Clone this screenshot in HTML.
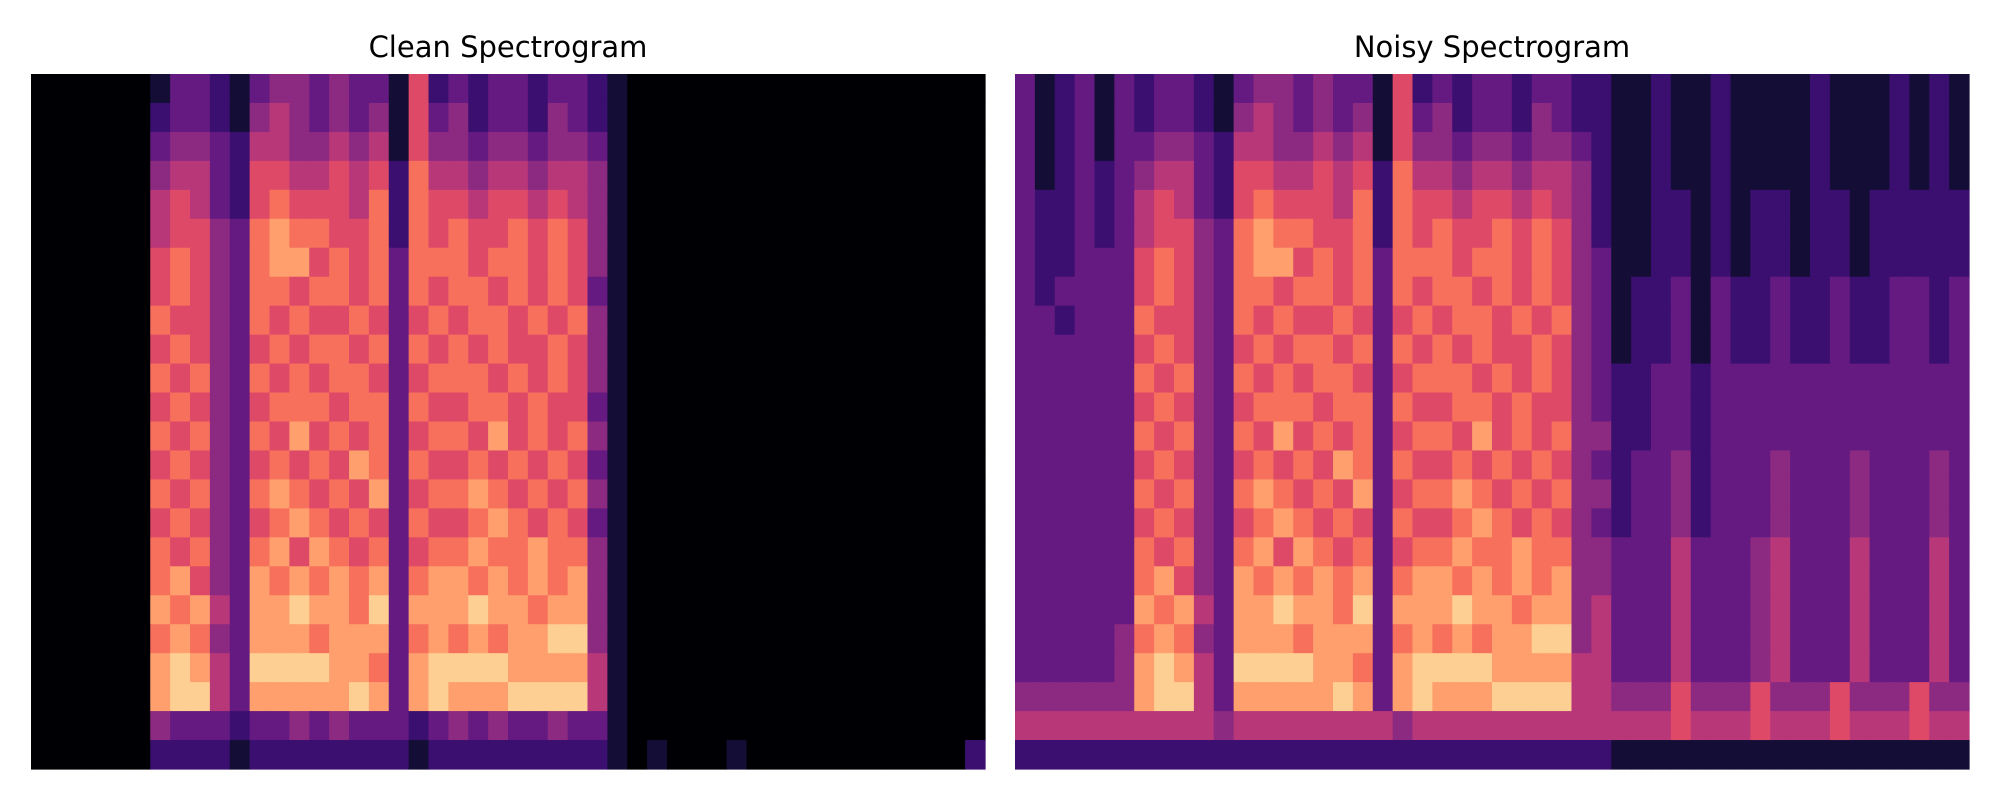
<!DOCTYPE html>
<html>
<head>
<meta charset="utf-8">
<style>
  html, body { margin: 0; padding: 0; background: #ffffff; }
  svg { display: block; }
  text { font-family: "DejaVu Sans", "Liberation Sans", sans-serif; fill: #000; }
</style>
</head>
<body>
<svg id="fig" width="2000" height="800" viewBox="0 0 2000 800" xmlns="http://www.w3.org/2000/svg">
  <rect x="0" y="0" width="2000" height="800" fill="#ffffff"/>
  <text x="508" y="57" font-size="29" text-anchor="middle">Clean Spectrogram</text>
  <text x="1492" y="57" font-size="29" text-anchor="middle">Noisy Spectrogram</text>
  <g id="cleanG"></g>
  <g id="noisyG"></g>
</svg>
<script>
// Intensity levels 0..9 (magma-like colormap), rows top (high freq) to bottom (low freq)
const cleanSpeech = [
"133213443433162323323321",
"233214543434163423324321",
"344325544545164434434431",
"455326655656275545545541",
"565326766657276656656541",
"566437877667276766767641",
"676437886767377767767641",
"676437767767376776767631",
"766437676676367677676741",
"676436767767376767667641",
"767437676776367776767641",
"676436777677376677676631",
"767437686767367768676741",
"676436767687376676767631",
"767437876768367787676741",
"676436787676376678767631",
"767437868767367787787741",
"786438787878378878787841",
"878538898879388898878841",
"787438887888378787889941",
"898539999887389999888851",
"899538888898389888999951",
"433323343433323434334331",
"222212222222212222222221"
];
const cleanLead = "000000";
const cleanTail = [
"000000000000000000","000000000000000000","000000000000000000","000000000000000000",
"000000000000000000","000000000000000000","000000000000000000","000000000000000000",
"000000000000000000","000000000000000000","000000000000000000","000000000000000000",
"000000000000000000","000000000000000000","000000000000000000","000000000000000000",
"000000000000000000","000000000000000000","000000000000000000","000000000000000000",
"000000000000000000","000000000000000000","000000000000000000","010001000000000002"
];
const noisySpeech = [
"233213443433162323323322",
"233214543434163423324322",
"344325544545164434434432",
"455326655656275545545542",
"565326766657276656656542",
"566437877667276766767642",
"676437886767377767767643",
"676437767767376776767643",
"766437676676367677676743",
"676436767767376767667643",
"767437676776367776767643",
"676436777677376677676643",
"767437686767367768676744",
"676436767687376676767643",
"767437876768367787676744",
"676436787676376678767643",
"767437868767367787787744",
"786438787878378878787844",
"878538898879388898878845",
"787438887888378787889945",
"898539999887389999888855",
"899538888898389888999955",
"555545555555545555555555",
"222222222222222222222222"
];
const noisyLead = [
"312313","312313","312313","312323","322323","322323",
"322333","323333","332333","333333","333333","333333",
"333333","333333","333333","333333","333333","333333",
"333333","333334","333334","444444","555555","222222"
];
const noisyTail = [
"112112111121112121","112112111121112121","112112111121112121","112112111121112121",
"112212122122122222","112212122122122222","112212122122122222","122313223223223323",
"122313223223223323","122313223223223323","223323333333333333","223323333333333333",
"223323333333333333","233423334333433343","233423334333433343","233423334333433343",
"333533345333533353","333533345333533353","333533345333533353","333533345333533353",
"333533345333533353","444644464446444644","555655565556555655","111111111111111111"
];
const magma = ["#000004","#140e36","#3b0f70","#641a80","#8c2981","#b73779","#de4968","#f7705c","#fe9f6d","#fecf92"];

const NCOLS = 48, NROWS = 24;
function xScale(panelX, panelW, c) { return panelX + c * panelW / NCOLS; }
function yScale(panelY, panelH, r) { return panelY + r * panelH / NROWS; }
function pad(s, n) { s = s || ""; while (s.length < n) s += s.charAt(s.length - 1) || "0"; return s.slice(0, n); }

function drawPanel(gId, lead, speech, tail, panelX, panelY, panelW, panelH, prefix) {
  const g = document.getElementById(gId);
  const NS = "http://www.w3.org/2000/svg";
  const bg = document.createElementNS(NS, "rect");
  bg.setAttribute("x", panelX); bg.setAttribute("y", panelY);
  bg.setAttribute("width", panelW); bg.setAttribute("height", panelH);
  bg.setAttribute("fill", magma[0]);
  
  
  g.appendChild(bg);
  for (let r = 0; r < NROWS; r++) {
    const row = pad(typeof lead === "string" ? lead : lead[r], 6) + pad(speech[r], 24) + pad(tail[r], 18);
    for (let c = 0; c < NCOLS; c++) {
      const v = parseInt(row.charAt(c), 10) || 0;
      const x0 = xScale(panelX, panelW, c), x1 = xScale(panelX, panelW, c + 1);
      const y0 = yScale(panelY, panelH, r), y1 = yScale(panelY, panelH, r + 1);
      const rect = document.createElementNS(NS, "rect");
      rect.setAttribute("x", x0.toFixed(2));
      rect.setAttribute("y", y0.toFixed(2));
      rect.setAttribute("width", (x1 - x0 + 0.6).toFixed(2));
      rect.setAttribute("height", (y1 - y0 + 0.6).toFixed(2));
      rect.setAttribute("fill", magma[Math.max(0, Math.min(9, v))]);
      
      
      g.appendChild(rect);
    }
  }
}
drawPanel("cleanG", cleanLead, cleanSpeech, cleanTail, 31, 74, 954, 695, "clean");
drawPanel("noisyG", noisyLead, noisySpeech, noisyTail, 1015, 74, 954, 695, "noisy");
</script>
</body>
</html>
